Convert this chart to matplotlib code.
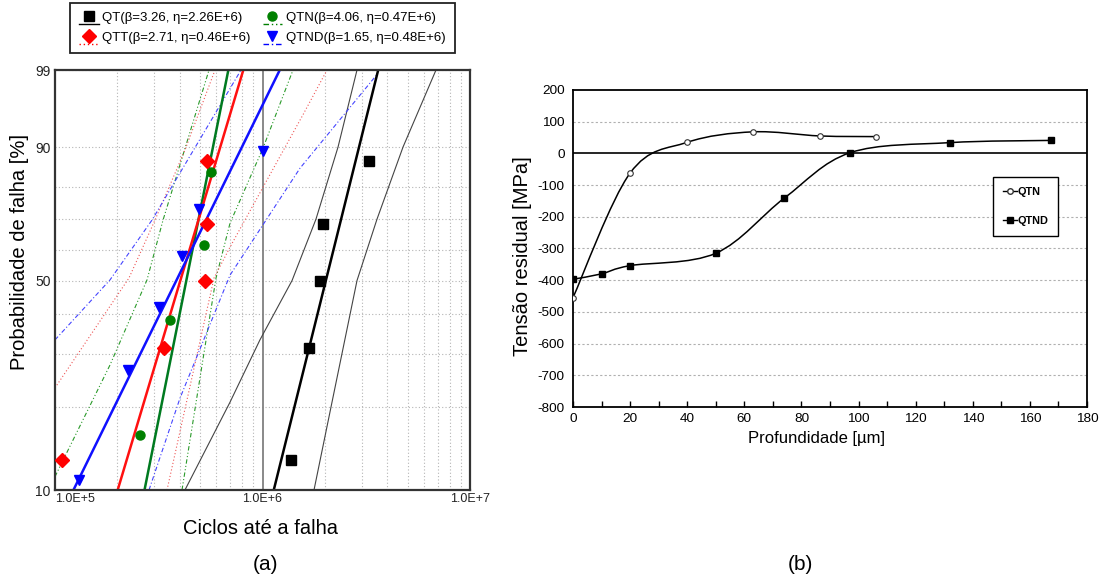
import numpy as np
import matplotlib
matplotlib.use('Agg')
import matplotlib.pyplot as plt
from matplotlib.path import Path
from matplotlib.patches import PathPatch
from matplotlib.lines import Line2D
from matplotlib.legend_handler import HandlerBase
from matplotlib.ticker import FixedLocator, NullFormatter, LogLocator, MultipleLocator

plt.rcParams['font.family'] = ['Liberation Sans', 'DejaVu Sans']
plt.rcParams['axes.unicode_minus'] = False

# ---------------- (a) Weibull probability plot data ----------------
qt_N = [1.377e6, 1.675e6, 1.892e6, 1.957e6, 3.26e6]
qt_F = [12.9, 31.5, 50.0, 68.5, 87.0]
qtt_N = [1.077e5, 3.36e5, 5.28e5, 5.38e5, 5.42e5]
qtt_F = [12.9, 31.5, 50.0, 68.5, 87.0]
qtn_N = [2.58e5, 3.58e5, 5.21e5, 5.63e5]
qtn_F = [15.9, 38.6, 61.4, 84.1]
qtnd_N = [1.305e5, 2.25e5, 3.16e5, 4.11e5, 4.94e5, 1.005e6]
qtnd_F = [10.9, 26.6, 42.2, 57.8, 73.4, 89.1]

# Weibull parameters (legend)
qt_beta, qt_eta = 3.26, 2.26e6
qtt_beta, qtt_eta = 2.71, 0.46e6
qtn_beta, qtn_eta = 4.06, 0.47e6
qtnd_beta, qtnd_eta = 1.65, 0.48e6

# confidence bounds
qt_lo_N = [4.23e5, 6.97e5, 9.72e5, 1.388e6, 1.810e6, 2.312e6, 2.854e6]
qt_lo_F = [10, 20.7, 33.4, 50, 70, 90, 99]
qt_hi_N = [1.771e6, 2.162e6, 2.854e6, 3.563e6, 4.755e6, 6.857e6]
qt_hi_F = [10, 20.7, 50, 70, 90, 99]
qtn_lo_N = [1.0e5, 1.034e5, 1.841e5, 2.776e5, 3.316e5, 5.524e5]
qtn_lo_F = [11.2, 11.8, 27.7, 50.2, 69.7, 99]
qtn_hi_N = [4.093e5, 5.970e5, 6.974e5, 1.006e6, 1.403e6]
qtn_hi_F = [10, 50.8, 68.7, 89.8, 99]
qtt_lo_N = [1.0e5, 2.273e5, 3.033e5, 4.231e5, 5.905e5]
qtt_lo_F = [23.2, 50.8, 69.7, 89.4, 99]
qtt_hi_N = [3.466e5, 5.840e5, 6.974e5, 1.567e6, 2.046e6]
qtt_hi_F = [10, 50.8, 60.8, 95.4, 99]
qtnd_lo_N = [1.0e5, 1.841e5, 2.934e5, 7.878e5]
qtnd_lo_F = [33.4, 50.2, 69.7, 99]
qtnd_hi_N = [2.838e5, 4.004e5, 6.974e5, 1.516e6, 3.563e6]
qtnd_hi_F = [10, 21.4, 51.7, 85.1, 98.8]

x_ticks = [1e5, 1e6, 1e7]
x_ticklabels = ['1.0E+5', '1.0E+6', '1.0E+7']
y_ticks = [10, 50, 90, 99]
y_grid = [20, 30, 40, 60, 70, 80]

# ---------------- (b) residual stress data ----------------
depth_qtn = [0, 20, 40, 63, 86.5, 106]
stress_qtn = [-455, -62, 35, 68, 55, 53]
depth_qtnd = [0, 10, 20, 50, 74, 97, 132, 167.5]
stress_qtnd = [-397, -380, -354, -315, -141, 2, 34, 41]


def fwd(F):
    F = np.clip(np.asarray(F, dtype=float), 1e-6, 100 - 1e-9)
    return np.log(-np.log(1 - F / 100.0))


def inv(y):
    return 100.0 * (1 - np.exp(-np.exp(np.asarray(y, dtype=float))))


def fit_line(beta, eta, F):
    F = np.asarray(F, dtype=float)
    return eta * (-np.log(1 - F / 100.0)) ** (1.0 / beta)


def smooth_path(x, y):
    P = np.column_stack([x, y]).astype(float)
    n = len(P)
    verts = [P[0]]
    codes = [Path.MOVETO]
    for i in range(n - 1):
        p0 = P[i - 1] if i > 0 else P[i]
        p1 = P[i]
        p2 = P[i + 1]
        p3 = P[i + 2] if i + 2 < n else P[i + 1]
        verts += [p1 + (p2 - p0) / 6.0, p2 - (p3 - p1) / 6.0, p2]
        codes += [Path.CURVE4] * 3
    return Path(verts, codes)


class UnderHandle:
    def __init__(self, marker, color, ls, ms):
        self.marker, self.color, self.ls, self.ms = marker, color, ls, ms


class HandlerUnder(HandlerBase):
    def create_artists(self, legend, oh, xdescent, ydescent, width, height, fontsize, trans):
        x0, y0 = -xdescent, -ydescent
        ln = Line2D([x0, x0 + width], [y0 - 2, y0 - 2], color=oh.color, ls=oh.ls, lw=1.0)
        mk = Line2D([x0 + width / 2], [y0 + height * 0.55], marker=oh.marker, color=oh.color,
                    ms=oh.ms, ls='none')
        ln.set_transform(trans)
        mk.set_transform(trans)
        return [ln, mk]


W, H = 1102, 580
fig = plt.figure(figsize=(W / 100, H / 100), dpi=100)

# ================= (a) =================
ax = fig.add_axes([55 / W, (H - 490) / H, 415 / W, 420 / H])
ax.set_xscale('log')
ax.set_yscale('function', functions=(fwd, inv))
ax.set_xlim(1e5, 1e7)
ax.set_ylim(10, 99)

ax.xaxis.set_major_locator(FixedLocator(x_ticks))
ax.set_xticks(x_ticks)
ax.set_xticklabels(x_ticklabels)
ax.xaxis.set_minor_locator(LogLocator(base=10, subs=np.arange(2, 10)))
ax.xaxis.set_minor_formatter(NullFormatter())
ax.yaxis.set_major_locator(FixedLocator(y_ticks))
ax.set_yticks(y_ticks)
ax.set_yticklabels([str(v) for v in y_ticks])
ax.yaxis.set_minor_locator(FixedLocator(y_grid))
ax.yaxis.set_minor_formatter(NullFormatter())
ax.tick_params(which='both', length=0, colors='#222222')
ax.tick_params(axis='x', pad=2.5, labelsize=9)
ax.tick_params(axis='y', pad=3, labelsize=10)
ax.set_axisbelow(True)
ax.grid(which='both', axis='y', ls=(0, (1, 2)), color='#b5b5b5', lw=0.8)
ax.grid(which='minor', axis='x', ls=(0, (1, 2)), color='#b5b5b5', lw=0.8)
ax.axvline(1e6, color='#808080', lw=1.3, zorder=1)
xl = ax.get_xticklabels()
xl[0].set_ha('left')
for s in ax.spines.values():
    s.set_linewidth(1.6)
    s.set_color('#333333')

Fl = [10, 99]
# bounds
ax.plot(qt_lo_N, qt_lo_F, color='#444444', lw=0.8)
ax.plot(qt_hi_N, qt_hi_F, color='#444444', lw=0.8)
green_ls = (0, (4, 2, 1, 2, 1, 2))
ax.plot(qtn_lo_N, qtn_lo_F, color='#2a9a2a', lw=0.8, ls=green_ls)
ax.plot(qtn_hi_N, qtn_hi_F, color='#2a9a2a', lw=0.8, ls=green_ls)
ax.plot(qtt_lo_N, qtt_lo_F, color='#ee5555', lw=0.8, ls=(0, (1, 2)))
ax.plot(qtt_hi_N, qtt_hi_F, color='#ee5555', lw=0.8, ls=(0, (1, 2)))
ax.plot(qtnd_lo_N, qtnd_lo_F, color='#4444ff', lw=0.8, ls=(0, (4, 2, 1, 2)))
ax.plot(qtnd_hi_N, qtnd_hi_F, color='#4444ff', lw=0.8, ls=(0, (4, 2, 1, 2)))

# fitted lines
ax.plot(fit_line(qt_beta, qt_eta, Fl), Fl, color='black', lw=1.8)
ax.plot(fit_line(qtn_beta, qtn_eta, Fl), Fl, color='#007a20', lw=1.8)
ax.plot(fit_line(qtt_beta, qtt_eta, Fl), Fl, color='#ff1010', lw=1.8)
ax.plot(fit_line(qtnd_beta, qtnd_eta, Fl), Fl, color='#1010ff', lw=1.8)

# points
ax.plot(qt_N, qt_F, 's', color='black', ms=6.5, zorder=5)
ax.plot(qtn_N, qtn_F, 'o', color='#008000', ms=6.5, zorder=5)
ax.plot(qtt_N, qtt_F, 'D', color='#ff0000', ms=7, zorder=5)
ax.plot(qtnd_N, qtnd_F, 'v', color='#0000ff', ms=7, zorder=5)

ax.set_xlabel('Ciclos até a falha', fontsize=14.5)
ax.xaxis.set_label_coords(0.496, -0.068)
ax.set_ylabel('Probabilidade de falha [%]', fontsize=14.5)
ax.yaxis.set_label_coords(-0.062, 0.567)

handles = [UnderHandle('s', 'black', '-', 6.5),
           UnderHandle('D', '#ff0000', (0, (1, 2)), 7),
           UnderHandle('o', '#008000', green_ls, 6.5),
           UnderHandle('v', '#0000ff', (0, (4, 2, 1, 2)), 7)]
labels = ['QT(β=%.2f, η=%.2fE+6)' % (qt_beta, qt_eta / 1e6),
          'QTT(β=%.2f, η=%.2fE+6)' % (qtt_beta, qtt_eta / 1e6),
          'QTN(β=%.2f, η=%.2fE+6)' % (qtn_beta, qtn_eta / 1e6),
          'QTND(β=%.2f, η=%.2fE+6)' % (qtnd_beta, qtnd_eta / 1e6)]
leg = fig.legend(handles, labels, handler_map={UnderHandle: HandlerUnder()},
                 loc='upper left', bbox_to_anchor=(70 / W, 1 - 3 / H), ncol=2,
                 fontsize=9.5, frameon=True, fancybox=False, edgecolor='#222222',
                 framealpha=1, borderpad=0.7, handlelength=1.5, handletextpad=0.25,
                 columnspacing=0.9, labelspacing=0.55, borderaxespad=0)
leg.get_frame().set_linewidth(1.3)

# ================= (b) =================
bx = fig.add_axes([573 / W, (H - 407) / H, 514 / W, 317 / H])
bx.set_xlim(0, 180)
bx.set_ylim(-800, 200)
bx.xaxis.set_major_locator(MultipleLocator(20))
bx.xaxis.set_minor_locator(MultipleLocator(10))
bx.yaxis.set_major_locator(MultipleLocator(100))
bx.tick_params(axis='x', which='both', direction='in', length=4, width=1, labelsize=9.7, pad=4.5)
bx.tick_params(axis='y', which='both', length=0, labelsize=9.7, pad=6)
for v in range(-700, 200, 100):
    if v != 0:
        bx.axhline(v, color='#b0b0b0', lw=0.8, ls=(0, (2, 2)), zorder=0)
bx.axhline(0, color='black', lw=1.2, zorder=1)
for s in bx.spines.values():
    s.set_linewidth(1.3)

bx.add_patch(PathPatch(smooth_path(depth_qtn, stress_qtn), fill=False, ec='black', lw=1.1, zorder=3))
bx.add_patch(PathPatch(smooth_path(depth_qtnd, stress_qtnd), fill=False, ec='black', lw=1.1, zorder=3))
bx.plot(depth_qtn, stress_qtn, 'o', mfc='white', mec='#333333', mew=0.8, ms=4, ls='none', zorder=4)
bx.plot(depth_qtnd, stress_qtnd, 's', color='black', ms=4.2, ls='none', zorder=4)

h1 = Line2D([], [], color='black', lw=1, marker='o', mfc='white', mec='#333333', ms=4)
h2 = Line2D([], [], color='black', lw=1, marker='s', ms=4)
leg2 = bx.legend([h1, h2], ['QTN', 'QTND'], loc='upper left', bbox_to_anchor=(0.817, 0.7256),
                 prop={'weight': 'bold', 'size': 7.8}, frameon=True, fancybox=False,
                 edgecolor='black', framealpha=1, handlelength=1.3, handletextpad=0.1,
                 labelspacing=1.8, borderpad=0.9, borderaxespad=0)
leg2.get_frame().set_linewidth(1.0)

bx.set_xlabel('Profundidade [µm]', fontsize=12)
bx.xaxis.set_label_coords(0.473, -0.075)
bx.set_ylabel('Tensão residual [MPa]', fontsize=14.5)
bx.yaxis.set_label_coords(-0.08, 0.476)

fig.text(265 / W, 1 - 565 / H, '(a)', ha='center', va='center', fontsize=15)
fig.text(800 / W, 1 - 565 / H, '(b)', ha='center', va='center', fontsize=15)

fig.savefig('out.png', dpi=100, facecolor='white')
